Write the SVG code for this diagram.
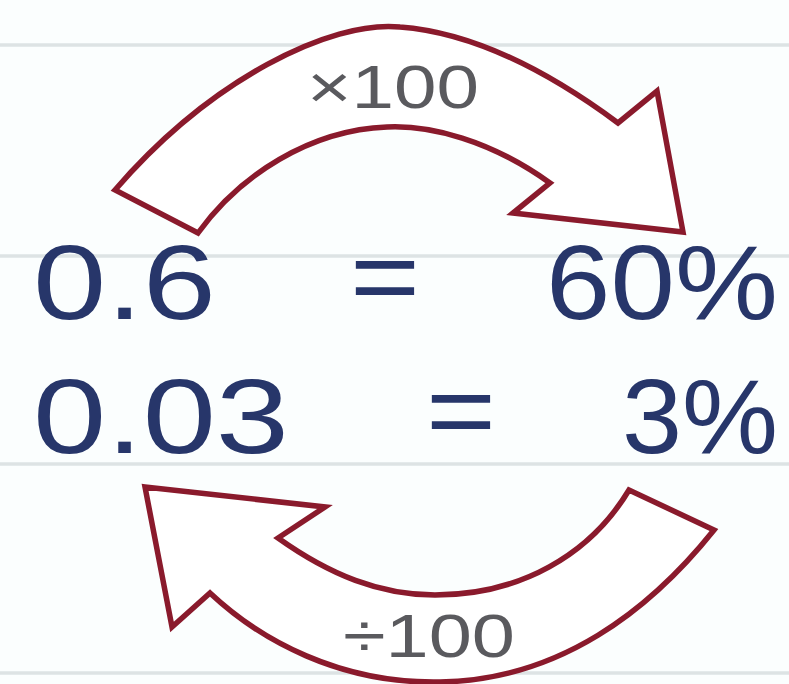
<svg xmlns="http://www.w3.org/2000/svg" width="789" height="684" viewBox="0 0 789 684">
<style>
.grid{stroke:#dde3e4;stroke-width:3.5;fill:none}
.arrow{fill:#ffffff;stroke:#8a1a2c;stroke-width:5.5;stroke-linejoin:miter}
.num{font-family:"Liberation Sans",Arial,sans-serif;font-size:105px;fill:#27366a}
.lbl{font-family:"Liberation Sans",Arial,sans-serif;font-size:62px;fill:#5a5a5e}
</style>
<rect width="789" height="684" fill="#fbfefe"/>
<g id="grid">
<line class="grid" x1="0" y1="45" x2="789" y2="45"/>
<line class="grid" x1="0" y1="256" x2="789" y2="256"/>
<line class="grid" x1="0" y1="464" x2="789" y2="464"/>
<line class="grid" x1="0" y1="673" x2="789" y2="673"/>
</g>
<g id="connectors">
<g id="arrow-top">
<path class="arrow" d="M115,190 C210,80 330,20 400,27 C480,33 560,80 618,123 L657,91 L683,232 L513,213 L550,183 C490,140 430,125 387,127 C310,130 240,175 198,233 Z"/>
<text class="lbl" x="307" y="108" textLength="172" lengthAdjust="spacingAndGlyphs">×100</text>
</g>
<g id="arrow-bottom">
<path class="arrow" d="M145,487 L325,507 L278,538 C330,575 380,595 435,595 C520,595 590,555 629,490 L714,530 C650,610 560,680 440,682 C340,684 260,640 210,593 L172,627 Z"/>
<text class="lbl" x="343" y="657" textLength="172" lengthAdjust="spacingAndGlyphs">÷100</text>
</g>
</g>
<g id="row1">
<text class="num" x="33" y="319" textLength="183" lengthAdjust="spacingAndGlyphs">0.6</text>
<text class="num" x="350" y="313" textLength="70" lengthAdjust="spacingAndGlyphs">=</text>
<text class="num" x="546" y="319" textLength="232" lengthAdjust="spacingAndGlyphs">60%</text>
</g>
<g id="row2">
<text class="num" x="33" y="453" textLength="256" lengthAdjust="spacingAndGlyphs">0.03</text>
<text class="num" x="426" y="447" textLength="70" lengthAdjust="spacingAndGlyphs">=</text>
<text class="num" x="622" y="453" textLength="156" lengthAdjust="spacingAndGlyphs">3%</text>
</g>
</svg>
